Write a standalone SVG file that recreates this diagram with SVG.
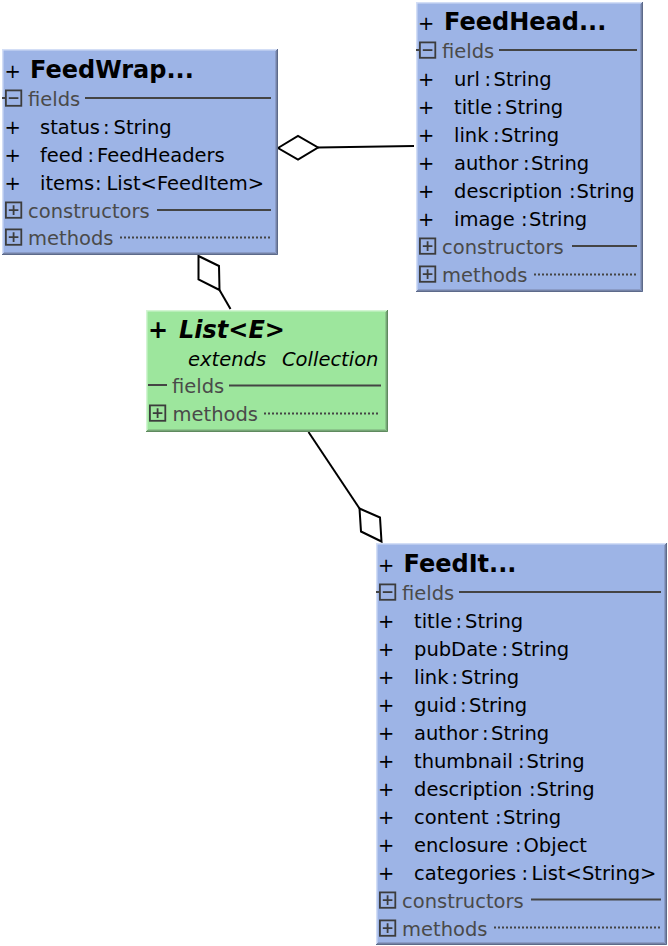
<svg xmlns="http://www.w3.org/2000/svg" width="668" height="946" viewBox="0 0 668 946">
<style>
text{font-family:"DejaVu Sans","Liberation Sans",sans-serif;font-size:19.5px;fill:#000}
.ttl{font-weight:bold;font-size:24px}
.bi{font-weight:bold;font-style:italic;font-size:24px}
.it{font-style:italic}
.sec{fill:#4a4a4a}
.bf{fill:#9db4e6}
.gf{fill:#9de69d}
.ln{stroke:#444;stroke-width:2;fill:none}
.dot{stroke:#444;stroke-width:2;stroke-dasharray:2 2;fill:none}
.tg{stroke:#3c3c3c;stroke-width:1.8;fill:none}
.bl1{stroke:#d3def6;stroke-width:1.5;fill:none}
.bd1{stroke:#5d6a8a;stroke-width:1;fill:none}
.bd2{stroke:#7583a6;stroke-width:1;fill:none}
.bd3{stroke:#8a9bc6;stroke-width:1;fill:none}
.gl1{stroke:#d3f5d3;stroke-width:1.5;fill:none}
.gd1{stroke:#5f8a5f;stroke-width:1;fill:none}
.gd2{stroke:#76a676;stroke-width:1;fill:none}
.gd3{stroke:#8bc68b;stroke-width:1;fill:none}
.con{stroke:#000;stroke-width:2;fill:none}
.dia{stroke:#000;stroke-width:2;fill:#fff;stroke-linejoin:miter}
</style>
<defs>
<g id="minus"><rect class="tg" x="0.9" y="0.4" width="15.4" height="15.4"/><path class="tg" d="M3.8,8.1 H13.4"/></g>
<g id="plus"><rect class="tg" x="0.9" y="0.4" width="15.4" height="15.4"/><path class="tg" d="M3.8,8.1 H13.4 M8.6,3.3 V12.9"/></g>
</defs>

<g id="connectors">
<path class="dia" d="M278,148 L298,136 L318,147.5 L298,159.5 Z"/>
<path class="con" d="M318,147.5 L414,146"/>
<path class="dia" d="M198.5,256 L219,266 L219.5,290 L198.5,279.5 Z"/>
<path class="con" d="M219.5,290 L230.5,309"/>
<path class="con" d="M308.5,432 L359.5,508.5"/>
<path class="dia" d="M359.5,508.5 L380,517.5 L381.5,541.5 L361,531.5 Z"/>
</g>

<g id="FeedWrapper">
<rect class="bf" x="2" y="49" width="276" height="206"/>
<path class="bl1" d="M2.75,255 V49.75 H278"/>
<path class="bd1" d="M277.5,49 V254.5 H2"/>
<path class="bd2" d="M276.5,50 V253.5 H3"/>
<path class="bd3" d="M275.5,51 V252.5 H4"/>
<text x="4.5" y="78">+</text>
<text class="ttl" x="30" y="78">FeedWrap...</text>
<path class="ln" d="M2,98 H5"/>
<use href="#minus" x="5" y="90"/>
<text class="sec" x="28" y="106">fields</text>
<path class="ln" d="M85,98 H271"/>
<text x="4.5" y="134">+</text>
<text y="134"><tspan x="40">status</tspan><tspan x="103">:</tspan><tspan x="113.5">String</tspan></text>
<text x="4.5" y="162">+</text>
<text y="162"><tspan x="40">feed</tspan><tspan x="87.5">:</tspan><tspan x="97">FeedHeaders</tspan></text>
<text x="4.5" y="190">+</text>
<text y="190"><tspan x="40">items</tspan><tspan x="95">:</tspan><tspan x="106.5">List&lt;FeedItem&gt;</tspan></text>
<use href="#plus" x="5" y="202"/>
<text class="sec" x="28" y="218">constructors</text>
<path class="ln" d="M157,210 H271"/>
<use href="#plus" x="5" y="229"/>
<text class="sec" x="28" y="245">methods</text>
<path class="dot" d="M120,237.5 H270"/>
</g>

<g id="FeedHeaders">
<rect class="bf" x="416" y="2" width="227" height="290"/>
<path class="bl1" d="M416.75,292 V2.75 H643"/>
<path class="bd1" d="M642.5,2 V291.5 H416"/>
<path class="bd2" d="M641.5,3 V290.5 H417"/>
<path class="bd3" d="M640.5,4 V289.5 H418"/>
<text x="418" y="30">+</text>
<text class="ttl" x="444" y="30">FeedHead...</text>
<path class="ln" d="M416,50 H419"/>
<use href="#minus" x="419" y="42"/>
<text class="sec" x="442" y="58">fields</text>
<path class="ln" d="M499,50 H637"/>
<text x="418" y="86">+</text>
<text y="86"><tspan x="454">url</tspan><tspan x="484.5">:</tspan><tspan x="493.5">String</tspan></text>
<text x="418" y="114">+</text>
<text y="114"><tspan x="454">title</tspan><tspan x="496">:</tspan><tspan x="505">String</tspan></text>
<text x="418" y="142">+</text>
<text y="142"><tspan x="454">link</tspan><tspan x="493">:</tspan><tspan x="501">String</tspan></text>
<text x="418" y="170">+</text>
<text y="170"><tspan x="454">author</tspan><tspan x="523">:</tspan><tspan x="531">String</tspan></text>
<text x="418" y="198">+</text>
<text y="198"><tspan x="454">description</tspan><tspan x="569">:</tspan><tspan x="576.5">String</tspan></text>
<text x="418" y="226">+</text>
<text y="226"><tspan x="454">image</tspan><tspan x="521">:</tspan><tspan x="529">String</tspan></text>
<use href="#plus" x="419" y="238"/>
<text class="sec" x="442" y="254">constructors</text>
<path class="ln" d="M572,246 H637"/>
<use href="#plus" x="419" y="266"/>
<text class="sec" x="442" y="282">methods</text>
<path class="dot" d="M534,274.5 H636"/>
</g>

<g id="List">
<rect class="gf" x="146" y="310" width="242" height="122"/>
<path class="gl1" d="M146.75,432 V310.75 H388"/>
<path class="gd1" d="M387.5,310 V431.5 H146"/>
<path class="gd2" d="M386.5,311 V430.5 H147"/>
<path class="gd3" d="M385.5,312 V429.5 H148"/>
<text class="ttl" x="148" y="338">+</text>
<text class="bi" x="179" y="338">List&lt;E&gt;</text>
<text class="it" y="366"><tspan x="188">extends</tspan><tspan x="282">Collection</tspan></text>
<path class="ln" d="M148,385 H167"/>
<text class="sec" x="172" y="393">fields</text>
<path class="ln" d="M229,385.5 H381"/>
<use href="#plus" x="149" y="405"/>
<text class="sec" x="172.5" y="421">methods</text>
<path class="dot" d="M264,413.5 H378"/>
</g>

<g id="FeedItem">
<rect class="bf" x="376" y="543" width="291" height="402"/>
<path class="bl1" d="M376.75,945 V543.75 H667"/>
<path class="bd1" d="M666.5,543 V944.5 H376"/>
<path class="bd2" d="M665.5,544 V943.5 H377"/>
<path class="bd3" d="M664.5,545 V942.5 H378"/>
<text x="378" y="572">+</text>
<text class="ttl" x="403.5" y="572">FeedIt...</text>
<path class="ln" d="M376,592 H379"/>
<use href="#minus" x="379" y="584"/>
<text class="sec" x="402" y="600">fields</text>
<path class="ln" d="M459,592 H661"/>
<text x="378" y="628">+</text>
<text y="628"><tspan x="414">title</tspan><tspan x="455.5">:</tspan><tspan x="465">String</tspan></text>
<text x="378" y="656">+</text>
<text y="656"><tspan x="414">pubDate</tspan><tspan x="501.5">:</tspan><tspan x="511">String</tspan></text>
<text x="378" y="684">+</text>
<text y="684"><tspan x="414">link</tspan><tspan x="451.5">:</tspan><tspan x="461">String</tspan></text>
<text x="378" y="712">+</text>
<text y="712"><tspan x="414">guid</tspan><tspan x="460">:</tspan><tspan x="469">String</tspan></text>
<text x="378" y="740">+</text>
<text y="740"><tspan x="414">author</tspan><tspan x="482">:</tspan><tspan x="491">String</tspan></text>
<text x="378" y="768">+</text>
<text y="768"><tspan x="414">thumbnail</tspan><tspan x="518">:</tspan><tspan x="526.5">String</tspan></text>
<text x="378" y="796">+</text>
<text y="796"><tspan x="414">description</tspan><tspan x="529">:</tspan><tspan x="536.5">String</tspan></text>
<text x="378" y="824">+</text>
<text y="824"><tspan x="414">content</tspan><tspan x="495">:</tspan><tspan x="503">String</tspan></text>
<text x="378" y="852">+</text>
<text y="852"><tspan x="414">enclosure</tspan><tspan x="515">:</tspan><tspan x="523.5">Object</tspan></text>
<text x="378" y="880">+</text>
<text y="880"><tspan x="414">categories</tspan><tspan x="521.5">:</tspan><tspan x="531.5">List&lt;String&gt;</tspan></text>
<use href="#plus" x="379" y="892"/>
<text class="sec" x="402" y="908">constructors</text>
<path class="ln" d="M531,899.5 H661"/>
<use href="#plus" x="379" y="920"/>
<text class="sec" x="402" y="936">methods</text>
<path class="dot" d="M494,927.5 H660"/>
</g>
</svg>
